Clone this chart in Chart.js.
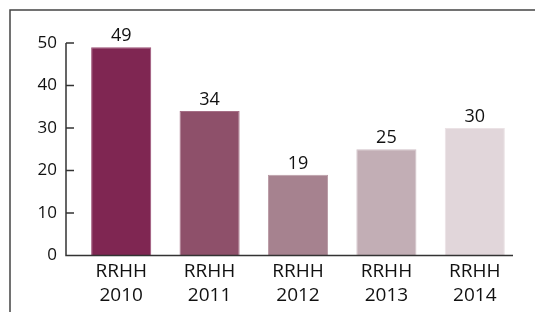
<!DOCTYPE html>
<html>
<head>
<meta charset="utf-8">
<script src="https://cdn.jsdelivr.net/npm/chart.js@4/dist/chart.umd.min.js"></script>
<style>
  html, body { margin: 0; padding: 0; background: #fff; }
  #wrap { position: relative; width: 535px; height: 312px; }
</style>
</head>
<body>
<div id="wrap"><canvas id="rrhhChart" width="535" height="312"></canvas></div>
<script>
// datos del grafico
var labels = [["RRHH", "2010"], ["RRHH", "2011"], ["RRHH", "2012"], ["RRHH", "2013"], ["RRHH", "2014"]];
var values = [49, 34, 19, 25, 30];
var barColors = ["#7f2652", "#8e506a", "#a6828f", "#c2aeb5", "#e1d6da"];
var edgeColors = ["#9a4f74", "#a56f86", "#b99aa5", "#d0c0c6", "#ebe2e5"];
var yTicks = [0, 10, 20, 30, 40, 50];

var FONT = "'Open Sans', 'DejaVu Sans', sans-serif";

// marco, ejes y etiquetas de valor
var axesPlugin = {
  id: 'axesPlugin',
  beforeDraw: function (chart) {
    var ctx = chart.ctx;
    ctx.save();
    ctx.strokeStyle = '#444';
    ctx.lineWidth = 1.5;
    ctx.beginPath();
    ctx.moveTo(10, 320);
    ctx.lineTo(10, 10);
    ctx.lineTo(540, 10);
    ctx.stroke();
    ctx.restore();
  },
  afterDatasetsDraw: function (chart) {
    var ctx = chart.ctx;
    var y = chart.scales.y;
    var area = chart.chartArea;
    var ax = area.left - 11;
    var y0 = y.getPixelForValue(0);
    var yTop = y.getPixelForValue(50);

    ctx.save();
    ctx.strokeStyle = '#333';
    ctx.lineWidth = 1.5;
    ctx.beginPath();
    ctx.moveTo(ax, yTop);
    ctx.lineTo(ax, y0);
    ctx.lineTo(area.right - 6, y0);
    yTicks.forEach(function (v) {
      if (v == 0) return;
      var py = y.getPixelForValue(v);
      ctx.moveTo(ax, py);
      ctx.lineTo(ax + 8, py);
    });
    ctx.stroke();

    ctx.fillStyle = '#111';
    ctx.font = "18px " + FONT;
    ctx.textAlign = 'center';
    ctx.textBaseline = 'alphabetic';
    var meta = chart.getDatasetMeta(0);
    meta.data.forEach(function (bar, i) {
      ctx.fillText(String(values[i]), bar.x, bar.y - 6);
    });
    ctx.restore();
  }
};

var ctx = document.getElementById("rrhhChart").getContext("2d");

var chart = new Chart(ctx, {
  type: 'bar',
  data: {
    labels: labels,
    datasets: [{
      data: values,
      backgroundColor: barColors,
      borderColor: edgeColors,
      borderWidth: 1,
      categoryPercentage: 1,
      barPercentage: 0.68
    }]
  },
  options: {
    responsive: false,
    animation: false,
    events: [],
    layout: {
      padding: { top: 43, right: 16, bottom: 0, left: 0 }
    },
    plugins: {
      legend: { display: false },
      tooltip: { enabled: false }
    },
    scales: {
      x: {
        grid: { display: false, drawTicks: false },
        border: { display: false },
        ticks: {
          color: '#111',
          padding: 4,
          font: { family: FONT, size: 19, lineHeight: 1.25 },
          maxRotation: 0,
          autoSkip: false
        },
        afterFit: function (scale) { scale.height = 56.5; }
      },
      y: {
        min: 0,
        max: 50,
        afterBuildTicks: function (scale) {
          scale.ticks = yTicks.map(function (v) { return { value: v }; });
        },
        grid: { display: false, drawTicks: false },
        border: { display: false },
        ticks: {
          color: '#111',
          padding: 20,
          font: { family: FONT, size: 17 }
        },
        afterFit: function (scale) { scale.width = 77; }
      }
    }
  },
  plugins: [axesPlugin]
});
</script>
</body>
</html>
